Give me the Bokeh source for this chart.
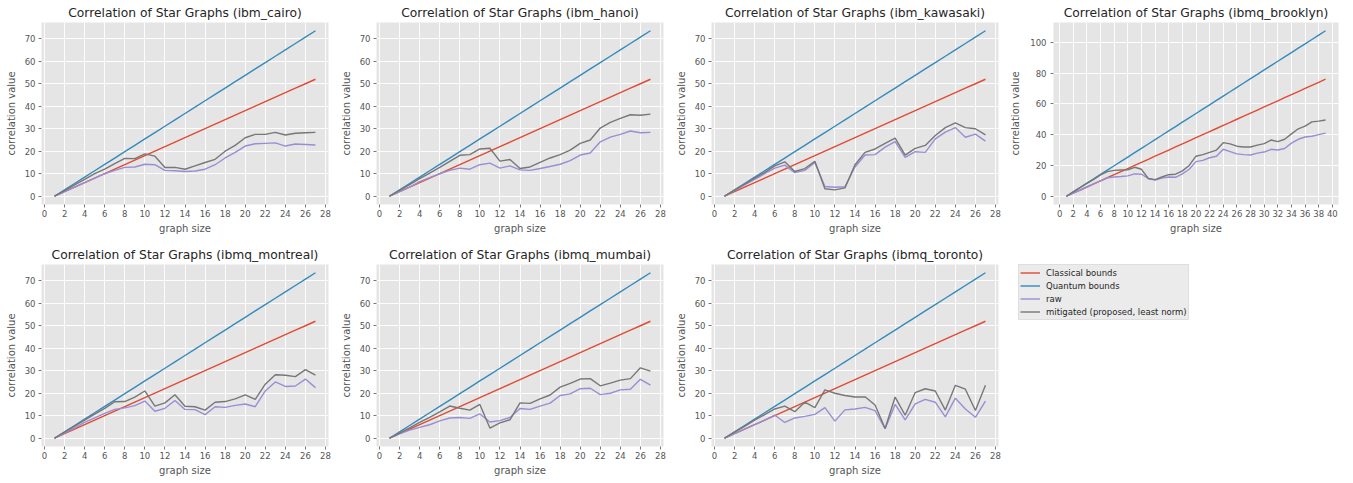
from bokeh.plotting import figure
from bokeh.layouts import row, column
from bokeh.models import Range1d, SingleIntervalTicker, Legend, LegendItem
from bokeh.embed import file_html
from bokeh.resources import INLINE

# ---------------- data ----------------
sizes_27 = list(range(1, 28))
sizes_39 = list(range(1, 40))

classical_27 = [0, 2, 4, 6, 8, 10, 12, 14, 16, 18, 20, 22, 24, 26, 28, 30, 32, 34, 36, 38,
                40, 42, 44, 46, 48, 50, 52]
quantum_27 = [0.00, 2.83, 5.66, 8.49, 11.31, 14.14, 16.97, 19.80, 22.63, 25.46, 28.28, 31.11,
              33.94, 36.77, 39.60, 42.43, 45.25, 48.08, 50.91, 53.74, 56.57, 59.40, 62.23,
              65.05, 67.88, 70.71, 73.54]
classical_39 = [0, 2, 4, 6, 8, 10, 12, 14, 16, 18, 20, 22, 24, 26, 28, 30, 32, 34, 36, 38,
                40, 42, 44, 46, 48, 50, 52, 54, 56, 58, 60, 62, 64, 66, 68, 70, 72, 74, 76]
quantum_39 = [0.00, 2.83, 5.66, 8.49, 11.31, 14.14, 16.97, 19.80, 22.63, 25.46, 28.28, 31.11,
              33.94, 36.77, 39.60, 42.43, 45.25, 48.08, 50.91, 53.74, 56.57, 59.40, 62.23,
              65.05, 67.88, 70.71, 73.54, 76.37, 79.20, 82.02, 84.85, 87.68, 90.51, 93.34,
              96.17, 98.99, 101.82, 104.65, 107.48]

cairo_raw = [0, 2, 4, 6, 8, 10, 11.5, 12.8, 13, 14.2, 14, 11.5, 11.3, 11, 11.2, 12, 14, 17,
             19.5, 22.3, 23.3, 23.5, 23.7, 22.3, 23.2, 23, 22.8]
cairo_mit = [0, 2.5, 5, 7.5, 10, 12, 14.5, 16.8, 16.7, 18.8, 17.8, 12.8, 12.8, 12, 13.5, 15,
             16.4, 20, 22.6, 26, 27.5, 27.5, 28.4, 27.2, 28, 28.2, 28.4]

hanoi_raw = [0, 2, 4, 6.5, 8.3, 10, 11.5, 12.5, 12, 14, 14.7, 12.5, 13.5, 11.7, 11.5, 12.3,
             13.2, 14.2, 15.8, 18.3, 19.2, 24.2, 26.3, 27.5, 29, 28.2, 28.4]
hanoi_mit = [0, 2.6, 5.2, 7.8, 10.3, 12.8, 15.5, 18.2, 18.5, 21, 21.3, 15.6, 16.3, 12.3, 13,
             15, 17, 18.5, 20.5, 23.5, 25, 30.3, 32.8, 34.6, 36.2, 36, 36.5]

kawasaki_raw = [0, 2.5, 5, 7.5, 10, 12.5, 13.8, 10.5, 11.5, 15, 4.3, 4, 4.2, 13, 18.3, 18.5,
                21.8, 24.3, 17.3, 19.8, 19.5, 25.5, 28.5, 30.5, 26.2, 27.6, 24.5]
kawasaki_mit = [0, 2.7, 5.4, 8, 10.6, 13.5, 15.3, 11, 12.3, 15.5, 3.3, 2.8, 3.7, 14, 19.5, 21,
                23.5, 25.8, 18.3, 21.3, 22.6, 27, 30.5, 32.6, 30.5, 30, 27.3]

brooklyn_raw = [0, 2, 4, 6, 8, 10, 12, 12.5, 12.8, 13.2, 14.5, 14.3, 11.5, 10.5, 11.8, 12.5,
                12.3, 14.5, 17.5, 22.5, 23.3, 25, 26, 30.5, 29, 27.5, 27, 26.8, 28, 28.7, 30.5,
                30, 31, 34.5, 37, 38.5, 39, 40, 41]
brooklyn_mit = [0, 2.8, 5.6, 8.4, 11, 13.8, 16, 16.8, 17, 17.2, 18.8, 17.5, 11.5, 10.8, 12.5,
                14, 14.3, 16.5, 20, 26, 27, 28.5, 30, 34.8, 34, 32.5, 32, 32, 33.2, 34.2, 36.5,
                35.5, 37, 40.5, 43.8, 45.5, 48.3, 48.8, 49.5]

montreal_raw = [0, 2.3, 4.6, 7, 9, 11, 12.8, 13.5, 14.5, 16.5, 12, 13.3, 16.8, 12.8, 12.7,
                10.5, 14, 13.7, 14.6, 15.2, 14, 21, 25, 23, 23.2, 26.3, 22.5]
montreal_mit = [0, 2.7, 5.4, 8, 10.7, 13.3, 16.2, 16.3, 18.3, 21, 14.3, 15.7, 19.3, 14.2, 14,
                12.5, 16, 16.3, 17.5, 19.3, 17.3, 24, 28.2, 28, 27.4, 30.5, 28]

mumbai_raw = [0, 2, 3.6, 4.8, 6, 7.7, 9, 9.2, 8.8, 10.8, 7.2, 7.8, 9.2, 13.2, 12.8, 14.3, 15.6,
              19, 19.7, 22, 22.2, 19.4, 20, 21.5, 21.8, 26.2, 23.6]
mumbai_mit = [0, 2.3, 4.6, 7, 9.3, 11.7, 14.3, 13.3, 12.5, 15, 4.5, 6.8, 8.2, 15.7, 15.5, 17.5,
              19.2, 22.7, 24.4, 26.3, 26.5, 23.3, 24.5, 25.8, 26.5, 31.3, 29.8]

toronto_raw = [0, 2, 4, 6, 8, 10.3, 7, 9, 9.7, 10.6, 13.6, 7.6, 12.6, 13, 13.7, 12.3, 4.2, 15,
               8.2, 15.3, 17.3, 16, 9.5, 17.8, 13, 9.3, 16.5]
toronto_mit = [0, 2.7, 5.3, 8, 10.5, 13, 14.3, 11.8, 16, 13.6, 21.5, 20, 19, 18.3, 18.4, 14.8,
               4.3, 18.3, 10.2, 20.3, 22, 21, 12.5, 23.5, 21.8, 12.3, 23.5]

series_labels = ["Classical bounds", "Quantum bounds", "raw",
                 "mitigated (proposed, least norm)"]

# ---------------- style ----------------
FONT = "DejaVu Sans"
COLORS = ["#E24A33", "#348ABD", "#988ED5", "#777777"]
LW = 1.4
TOP_B = 18


def make_panel(name, sizes, classical, quantum, raw, mit, xr, yr, xstep, ystep,
               width, height, left, right, bottom, ylab_standoff=5, ytick_standoff=3):
    p = figure(width=width, height=height, output_backend="svg", toolbar_location=None,
               x_range=Range1d(*xr), y_range=Range1d(*yr),
               min_border_left=left, min_border_right=right,
               min_border_top=TOP_B, min_border_bottom=bottom,
               title=f"Correlation of Star Graphs ({name})")
    p.title.text_font = FONT
    p.title.text_font_size = "12.3px"
    p.title.text_font_style = "normal"
    p.title.text_color = "#262626"
    p.title.align = "center"
    p.title.standoff = 6

    p.background_fill_color = "#E5E5E5"
    p.border_fill_color = "white"
    p.outline_line_color = None

    xt = SingleIntervalTicker(interval=xstep, num_minor_ticks=0)
    yt = SingleIntervalTicker(interval=ystep, num_minor_ticks=0)
    p.xaxis.ticker = xt
    p.yaxis.ticker = yt
    p.xgrid.ticker = xt
    p.ygrid.ticker = yt
    p.grid.grid_line_color = "white"
    p.grid.grid_line_width = 0.9

    p.axis.axis_line_color = None
    p.axis.major_tick_line_color = "#555555"
    p.axis.major_tick_line_width = 0.8
    p.axis.major_tick_out = 3
    p.axis.major_tick_in = 0
    p.axis.minor_tick_line_color = None
    p.axis.major_label_text_font = FONT
    p.axis.major_label_text_font_size = "8.5px"
    p.axis.major_label_text_color = "#555555"
    p.axis.axis_label_text_font = FONT
    p.axis.axis_label_text_font_size = "10px"
    p.axis.axis_label_text_font_style = "normal"
    p.axis.axis_label_text_color = "#555555"
    p.xaxis.axis_label = "graph size"
    p.yaxis.axis_label = "correlation value"
    p.xaxis.major_label_standoff = 2
    p.yaxis.major_label_standoff = ytick_standoff
    p.xaxis.axis_label_standoff = 3
    p.yaxis.axis_label_standoff = ylab_standoff

    for ys, c in zip([classical, quantum, raw, mit], COLORS):
        p.line(sizes, ys, line_color=c, line_width=LW)
    return p


R27X = (-0.3, 28.3)
R27Y = (-3.68, 77.22)
R39X = (-0.9, 40.9)
R39Y = (-5.37, 112.85)

H1, B1 = 242, 38   # top row: frame 186
H2, B2 = 240, 36   # bottom row: frame 186

f1 = make_panel("ibm_cairo", sizes_27, classical_27, quantum_27, cairo_raw, cairo_mit,
                R27X, R27Y, 2, 10, 335, H1, 41, 7, B1)
f2 = make_panel("ibm_hanoi", sizes_27, classical_27, quantum_27, hanoi_raw, hanoi_mit,
                R27X, R27Y, 2, 10, 335, H1, 41, 7, B1)
f3 = make_panel("ibm_kawasaki", sizes_27, classical_27, quantum_27, kawasaki_raw, kawasaki_mit,
                R27X, R27Y, 2, 10, 335, H1, 41, 7, B1)
f4 = make_panel("ibmq_brooklyn", sizes_39, classical_39, quantum_39, brooklyn_raw, brooklyn_mit,
                R39X, R39Y, 2, 20, 345, H1, 48, 12, B1, ylab_standoff=6, ytick_standoff=4)
f5 = make_panel("ibmq_montreal", sizes_27, classical_27, quantum_27, montreal_raw, montreal_mit,
                R27X, R27Y, 2, 10, 335, H2, 41, 7, B2)
f6 = make_panel("ibmq_mumbai", sizes_27, classical_27, quantum_27, mumbai_raw, mumbai_mit,
                R27X, R27Y, 2, 10, 335, H2, 41, 7, B2)
f7 = make_panel("ibmq_toronto", sizes_27, classical_27, quantum_27, toronto_raw, toronto_mit,
                R27X, R27Y, 2, 10, 335, H2, 41, 7, B2)

# legend panel (8th slot, no axes); its series sit outside the visible range
f8 = figure(width=345, height=H2, output_backend="svg", toolbar_location=None,
            x_range=Range1d(1000, 1001), y_range=Range1d(1000, 1001),
            x_axis_type=None, y_axis_type=None,
            min_border_left=13, min_border_right=0,
            min_border_top=TOP_B, min_border_bottom=B2)
f8.grid.visible = False
f8.outline_line_color = None
f8.background_fill_color = "white"
f8.border_fill_color = "white"
items = []
for lab, ys, c in zip(series_labels, [classical_27, quantum_27, toronto_raw, toronto_mit], COLORS):
    r = f8.line(sizes_27, ys, line_color=c, line_width=LW)
    items.append(LegendItem(label=lab, renderers=[r]))
legend = Legend(items=items, location="top_left")
legend.label_text_font = FONT
legend.label_text_font_size = "8.5px"
legend.label_text_color = "#262626"
legend.glyph_width = 20
legend.glyph_height = 13
legend.label_height = 13
legend.label_standoff = 6
legend.spacing = 0
legend.padding = 1
legend.margin = 0
legend.background_fill_color = "#EBEBEB"
legend.background_fill_alpha = 1.0
legend.border_line_color = "#D2D2D2"
legend.border_line_width = 1
f8.add_layout(legend)

layout = column(row(f1, f2, f3, f4), row(f5, f6, f7, f8))

open("out.html", "w").write(file_html(layout, INLINE))
